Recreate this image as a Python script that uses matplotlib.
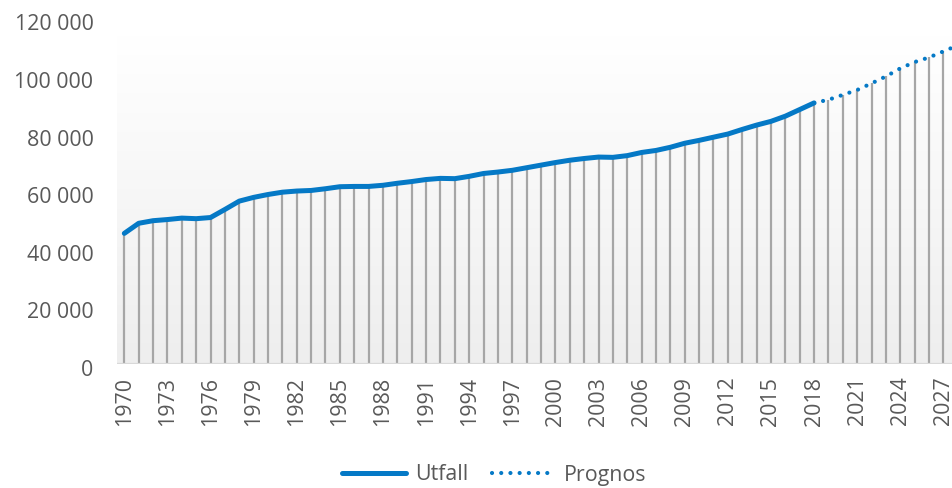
import numpy as np
import matplotlib
matplotlib.use('Agg')
import matplotlib.pyplot as plt
from matplotlib.colors import LinearSegmentedColormap
from matplotlib.lines import Line2D
from matplotlib.transforms import ScaledTranslation

# utfall 1970-2018
years_utfall = list(range(1970, 2019))
utfall = [45200, 48700, 49600, 50000, 50500, 50300, 50700, 53500, 56400, 57700,
          58700, 59500, 59900, 60100, 60700, 61400, 61500, 61500, 61900, 62600,
          63200, 63900, 64300, 64200, 65000, 66000, 66500, 67100, 68000, 68900,
          69800, 70600, 71200, 71700, 71600, 72200, 73300, 74000, 75100, 76500,
          77500, 78600, 79700, 81300, 82800, 84100, 85900, 88200, 90500]

# prognos 2018-2028
years_prognos = list(range(2018, 2029))
prognos = [90500, 91600, 93300, 95000, 97300, 99700, 102500, 104700, 106300,
           108400, 110500]

xticks = list(range(1970, 2028, 3))
yticks = [0, 20000, 40000, 60000, 80000, 100000, 120000]

blue = '#0579c6'
txt = '#595959'
plt.rcParams['font.family'] = ['Open Sans', 'DejaVu Sans']

fig = plt.figure(figsize=(9.52, 4.88), dpi=100)
ax = fig.add_axes([117 / 952, 124.5 / 488, 1 - 117 / 952, (363.5 - 18) / 488])

x0, x1 = 1969.49, 2027.6

# bakgrund med gradient
cmap = LinearSegmentedColormap.from_list('bg', ['#eeeeee', '#ffffff'])
grad = np.linspace(1, 0, 256).reshape(-1, 1)
ax.imshow(grad, extent=[x0, x1, 0, 113900], aspect='auto', cmap=cmap,
          vmin=0, vmax=1, zorder=0)

# droplines
all_years = years_utfall + years_prognos[1:]
all_vals = utfall + prognos[1:]
ax.vlines(all_years, 0, all_vals, color='#a6a6a6', lw=1.6, zorder=1)
ax.axhline(0, color='#d9d9d9', lw=1.6, zorder=2)

ax.plot(years_utfall, utfall, color=blue, lw=3.6, solid_capstyle='round',
        solid_joinstyle='round', zorder=3)
ax.plot(years_prognos, prognos, color=blue, lw=3.0,
        linestyle=(0, (0.01, 2.2)), dash_capstyle='round', zorder=3)

ax.set_xlim(x0, x1)
ax.set_ylim(0, 120000)
ax.set_xticks(xticks)
ax.set_xticklabels([str(y) for y in xticks], rotation=90)
ax.set_yticks(yticks)
ax.set_yticklabels([f'{v:,}'.replace(',', ' ') for v in yticks])
ax.tick_params(axis='x', length=0, pad=9.5, labelsize=15.4, labelcolor=txt)
ax.tick_params(axis='y', length=0, pad=17, labelsize=15.4, labelcolor=txt)
for lab in ax.get_yticklabels():
    lab.set_transform(lab.get_transform() + ScaledTranslation(0, -4.5 / 100, fig.dpi_scale_trans))
for s in ax.spines.values():
    s.set_visible(False)

handles = [Line2D([], [], color=blue, lw=3.6, solid_capstyle='round'),
           Line2D([], [], color=blue, lw=3.0, linestyle=(0, (0.01, 2.2)),
                  dash_capstyle='round')]
fig.legend(handles, ['Utfall', 'Prognos'], loc='center', ncol=2,
           bbox_to_anchor=(494.5 / 952, 13 / 488), frameon=False,
           fontsize=15.4, labelcolor=txt, handlelength=3.0,
           handletextpad=0.4, columnspacing=1.1)

fig.savefig('out.png', dpi=100)
